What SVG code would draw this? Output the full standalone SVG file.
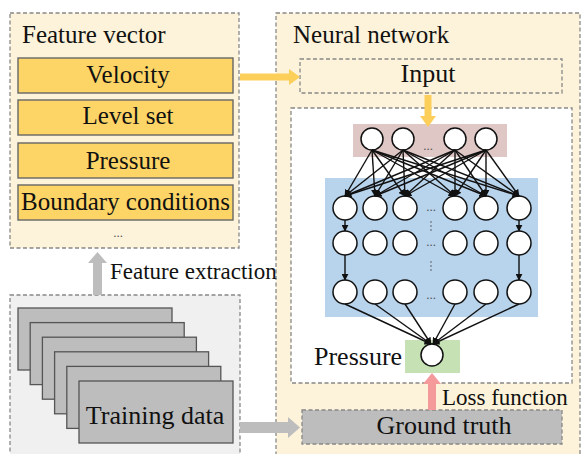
<svg xmlns="http://www.w3.org/2000/svg" width="581" height="454" viewBox="0 0 581 454">
<style>
text{font-family:'Liberation Serif','Times New Roman',Times,serif;fill:#111}
.panel{stroke:#888;stroke-width:1.3;stroke-dasharray:4 2.5}
.feat{fill:#fdd567;stroke:#666;stroke-width:1.4}
.sheet{fill:#bdbdbd;stroke:#555;stroke-width:1.3}
.node{fill:#fff;stroke:#111;stroke-width:1.5}
.conn{stroke:#111;stroke-width:1.4;fill:none;marker-end:url(#ah)}
.tb{font-size:25px}
.th{font-size:25px}
.tt{font-size:26px}
.ta{font-size:23px}
.dots{font-size:13px;fill:#555}
</style>
<defs>
<marker id="ah" viewBox="0 0 10 10" refX="9" refY="5" markerWidth="7" markerHeight="7" orient="auto" markerUnits="userSpaceOnUse"><path d="M0,0 L10,5 L0,10 z" fill="#111"/></marker>
</defs>

<g id="feature-vector">
<rect class="panel" x="10" y="13" width="229" height="235" fill="#fdf3da"/>
<text class="th" x="22" y="43">Feature vector</text>
<rect class="feat" x="18" y="58" width="215" height="35"/>
<text class="tb" x="128" y="83" text-anchor="middle">Velocity</text>
<rect class="feat" x="18" y="100" width="215" height="35"/>
<text class="tb" x="128" y="124" text-anchor="middle">Level set</text>
<rect class="feat" x="18" y="143" width="215" height="35"/>
<text class="tb" x="128" y="169" text-anchor="middle">Pressure</text>
<rect class="feat" x="18" y="185" width="215" height="35"/>
<text class="tb" x="125.5" y="210" text-anchor="middle">Boundary conditions</text>
<text class="dots" x="118" y="237" text-anchor="middle">...</text>
</g>

<g id="training-data">
<rect class="panel" x="10" y="295" width="230" height="170" fill="#f0f0f0"/>
<rect class="sheet" x="18" y="308" width="154" height="62"/>
<rect class="sheet" x="30.2" y="322.6" width="154" height="62"/>
<rect class="sheet" x="42.4" y="337.2" width="154" height="62"/>
<rect class="sheet" x="54.6" y="351.8" width="154" height="62"/>
<rect class="sheet" x="66.8" y="366.4" width="154" height="62"/>
<rect class="sheet" x="79" y="381" width="154" height="62"/>
<text class="tt" x="155" y="424" text-anchor="middle">Training data</text>
</g>

<g id="neural-network">
<rect class="panel" x="276" y="13" width="304" height="460" fill="#fdf3da"/>
<text class="th" x="293" y="43">Neural network</text>
</g>

<g id="input">
<rect class="panel" x="300" y="59" width="262" height="34" fill="none"/>
<text class="tt" x="428" y="82" text-anchor="middle">Input</text>
</g>

<g id="network-area">
<rect class="panel" x="291" y="108" width="281" height="275" fill="#fff"/>
<rect x="353" y="124" width="154" height="33" fill="#dfc7c5"/>
<rect x="325" y="178" width="213" height="139" fill="#b8d3ec"/>
<rect x="405" y="340" width="55" height="33" fill="#c6e2b4"/>
</g>

<g id="input-layer">
<circle class="node" cx="372" cy="139" r="11"/>
<circle class="node" cx="403" cy="139" r="11"/>
<circle class="node" cx="455" cy="139" r="11"/>
<circle class="node" cx="486" cy="139" r="11"/>
<text class="dots" x="428" y="150" text-anchor="middle">...</text>
</g>

<g id="hidden-layers">
<circle class="node" cx="345" cy="208" r="12"/>
<circle class="node" cx="375" cy="208" r="12"/>
<circle class="node" cx="405" cy="208" r="12"/>
<circle class="node" cx="455" cy="208" r="12"/>
<circle class="node" cx="486" cy="208" r="12"/>
<circle class="node" cx="519" cy="208" r="12"/>
<circle class="node" cx="345" cy="243" r="12"/>
<circle class="node" cx="375" cy="243" r="12"/>
<circle class="node" cx="405" cy="243" r="12"/>
<circle class="node" cx="455" cy="243" r="12"/>
<circle class="node" cx="486" cy="243" r="12"/>
<circle class="node" cx="519" cy="243" r="12"/>
<circle class="node" cx="345" cy="292" r="12"/>
<circle class="node" cx="375" cy="292" r="12"/>
<circle class="node" cx="405" cy="292" r="12"/>
<circle class="node" cx="455" cy="292" r="12"/>
<circle class="node" cx="486" cy="292" r="12"/>
<circle class="node" cx="519" cy="292" r="12"/>
<text class="dots" x="431" y="211" text-anchor="middle">...</text>
<text class="dots" x="431" y="246" text-anchor="middle">...</text>
<text class="dots" x="431" y="299" text-anchor="middle">...</text>
<g fill="#555">
<circle cx="431" cy="222" r="0.8"/><circle cx="431" cy="226" r="0.8"/><circle cx="431" cy="230" r="0.8"/>
<circle cx="431" cy="262" r="0.8"/><circle cx="431" cy="266" r="0.8"/><circle cx="431" cy="270" r="0.8"/>
</g>
</g>

<g id="output">
<circle class="node" cx="432" cy="355" r="11"/>
<text class="tt" x="314" y="365">Pressure</text>
</g>

<g id="ground-truth">
<rect class="panel" x="302" y="410" width="260" height="34" fill="#bdbdbd"/>
<text class="tt" x="444" y="434" text-anchor="middle">Ground truth</text>
</g>

<g id="connectors">
<polygon points="240,73.5 289,73.5 289,69 300,77 289,85 289,80.5 240,80.5" fill="#fccf5a"/>
<polygon points="424.5,95 424.5,116 420,116 428,127 436,116 431.5,116 431.5,95" fill="#fccf5a"/>
<polygon points="93,295 93,263 88,263 97.5,252 107,263 102,263 102,295" fill="#bdbdbd"/>
<polygon points="240,422 288,422 288,417 300,427.5 288,438 288,433 240,433" fill="#bdbdbd"/>
<polygon points="428,410 428,384 423,384 432,373 441,384 436,384 436,410" fill="#f59a9a"/>
<text class="ta" x="442" y="405">Loss function</text>
<text class="ta" x="110" y="279">Feature extraction</text>

<line class="conn" x1="372" y1="150" x2="345" y2="196"/>
<line class="conn" x1="372" y1="150" x2="375" y2="196"/>
<line class="conn" x1="372" y1="150" x2="405" y2="196"/>
<line class="conn" x1="372" y1="150" x2="455" y2="196"/>
<line class="conn" x1="372" y1="150" x2="486" y2="196"/>
<line class="conn" x1="372" y1="150" x2="519" y2="196"/>
<line class="conn" x1="403" y1="150" x2="345" y2="196"/>
<line class="conn" x1="403" y1="150" x2="375" y2="196"/>
<line class="conn" x1="403" y1="150" x2="405" y2="196"/>
<line class="conn" x1="403" y1="150" x2="455" y2="196"/>
<line class="conn" x1="403" y1="150" x2="486" y2="196"/>
<line class="conn" x1="403" y1="150" x2="519" y2="196"/>
<line class="conn" x1="455" y1="150" x2="345" y2="196"/>
<line class="conn" x1="455" y1="150" x2="375" y2="196"/>
<line class="conn" x1="455" y1="150" x2="405" y2="196"/>
<line class="conn" x1="455" y1="150" x2="455" y2="196"/>
<line class="conn" x1="455" y1="150" x2="486" y2="196"/>
<line class="conn" x1="455" y1="150" x2="519" y2="196"/>
<line class="conn" x1="486" y1="150" x2="345" y2="196"/>
<line class="conn" x1="486" y1="150" x2="375" y2="196"/>
<line class="conn" x1="486" y1="150" x2="405" y2="196"/>
<line class="conn" x1="486" y1="150" x2="455" y2="196"/>
<line class="conn" x1="486" y1="150" x2="486" y2="196"/>
<line class="conn" x1="486" y1="150" x2="519" y2="196"/>

<line class="conn" x1="345" y1="220" x2="345" y2="231"/>
<line class="conn" x1="345" y1="255" x2="345" y2="280"/>
<line class="conn" x1="519" y1="220" x2="519" y2="231"/>
<line class="conn" x1="519" y1="255" x2="519" y2="280"/>

<line class="conn" x1="345" y1="304" x2="431" y2="344"/>
<line class="conn" x1="375" y1="304" x2="431" y2="344"/>
<line class="conn" x1="405" y1="304" x2="431" y2="344"/>
<line class="conn" x1="455" y1="304" x2="433" y2="344"/>
<line class="conn" x1="486" y1="304" x2="433" y2="344"/>
<line class="conn" x1="519" y1="304" x2="433" y2="344"/>
</g>
</svg>
